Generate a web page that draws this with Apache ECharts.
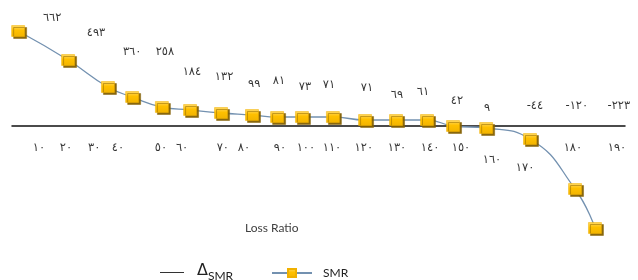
<!DOCTYPE html>
<html>
<head>
<meta charset="utf-8">
<script src="https://cdn.jsdelivr.net/npm/echarts@6/dist/echarts.min.js"></script>
<style>
  html, body { margin: 0; padding: 0; background: #fff; }
  #main { width: 638px; height: 280px; }
</style>
</head>
<body>
<div id="main"></div>
<script>
// SMR curve: position along the loss-ratio axis and SMR value
var smrX = [2.0, 18.3, 31.3, 39.2, 48.9, 58.1, 68.2, 78.3, 86.5, 94.6, 104.7, 115.2, 125.3, 135.4, 143.9, 154.7, 169.0, 183.7, 190.2];
var smrY = [475, 330, 195, 145, 95, 80, 65, 55, 45, 45, 45, 30, 30, 30, 0, -10, -65, -315, -510];

// ΔSMR values written above the curve, and where each one sits
var deltaValues = [662, 493, 360, 258, 184, 132, 99, 81, 73, 71, 71, 69, 61, 42, 9, -44, -120, -223];
var deltaX = [13.1, 27.4, 39.2, 49.9, 58.7, 69.2, 79.0, 87.1, 95.6, 103.4, 115.8, 125.6, 134.1, 145.2, 155.0, 170.6, 184.3, 198.0];
var deltaY = [540, 465, 370, 370, 270, 245, 210, 225, 195, 205, 190, 155, 170, 125, 90, 100, 100, 100];

// loss ratio tick texts under the axis
var lossRatio = [10, 20, 30, 40, 50, 60, 70, 80, 90, 100, 110, 120, 130, 140, 150, 160, 170, 180, 190];
var lossX = [8.8, 17.6, 26.8, 34.6, 48.6, 55.5, 68.8, 75.7, 87.4, 95.9, 104.4, 114.8, 125.6, 136.4, 146.5, 156.6, 167.4, 183.0, 197.4];
var lossY = [-110, -110, -110, -110, -110, -110, -110, -110, -110, -110, -110, -110, -110, -110, -110, -170, -210, -110, -110];

function arabicDigits(n) {
  var s = String(n);
  var d = '٠١٢٣٤٥٦٧٨٩';
  return s.replace(/[0-9]/g, function (c) { return d[+c]; });
}

var smrData = smrX.map(function (x, i) { return [x, smrY[i]]; });
var deltaData = deltaValues.map(function (v, i) {
  return { name: arabicDigits(v), value: [deltaX[i], deltaY[i]] };
});
var lossData = lossRatio.map(function (v, i) {
  return { name: arabicDigits(v), value: [lossX[i], lossY[i]] };
});

var digitLabel = {
  show: true,
  position: 'inside',
  formatter: '{b}',
  fontFamily: 'DejaVu Sans',
  fontSize: 11.5,
  color: '#000'
};

var myChart = echarts.init(document.getElementById('main'));
myChart.setOption({
  animation: false,
  title: {
    text: 'Loss Ratio',
    left: 240,
    top: 217,
    textStyle: { fontFamily: 'Lato', fontSize: 12, fontWeight: 'normal', color: '#404040' }
  },
  legend: [
    {
      data: ['ΔSMR'],
      left: 155,
      top: 258,
      icon: 'rect',
      itemWidth: 24,
      itemHeight: 1,
      itemGap: 10,
      itemStyle: { color: '#000' },
      formatter: function () { return '{d|Δ}{s|SMR}'; },
      textStyle: {
        padding: [0, 0, 0, 8],
        rich: {
          d: { fontFamily: 'DejaVu Sans', fontSize: 16, color: '#222', verticalAlign: 'bottom', padding: [0, 0, 3, 0] },
          s: { fontFamily: 'Lato', fontSize: 12, color: '#222', verticalAlign: 'bottom' }
        }
      }
    },
    {
      data: ['SMR'],
      left: 266,
      top: 262,
      itemWidth: 40,
      itemHeight: 10,
      itemGap: 10,
      textStyle: { fontFamily: 'Lato', fontSize: 12, color: '#222', padding: [0, 0, 0, 6] }
    }
  ],
  grid: { left: 12, right: 13, top: 0, bottom: 0 },
  xAxis: {
    type: 'value',
    min: 0,
    max: 200,
    axisLine: { show: true, onZero: true, lineStyle: { color: '#111', width: 1.5 } },
    axisTick: { show: false },
    axisLabel: { show: false },
    splitLine: { show: false }
  },
  yAxis: {
    type: 'value',
    min: -770,
    max: 630,
    show: false,
    splitLine: { show: false }
  },
  series: [
    {
      name: 'SMR',
      type: 'line',
      data: smrData,
      smooth: 0.5,
      symbol: 'rect',
      symbolSize: [13, 11],
      z: 3,
      lineStyle: { color: '#7391b0', width: 1.3 },
      itemStyle: {
        color: new echarts.graphic.LinearGradient(0, 0, 0, 1, [
          { offset: 0, color: '#ffd966' },
          { offset: 0.45, color: '#ffc000' },
          { offset: 1, color: '#f2b400' }
        ]),
        borderColor: '#f0b000',
        borderWidth: 0.5,
        shadowColor: 'rgba(130, 95, 0, 0.95)',
        shadowOffsetX: 2,
        shadowOffsetY: 2,
        shadowBlur: 0
      },
      silent: true
    },
    {
      name: 'ΔSMR',
      type: 'scatter',
      data: deltaData,
      symbolSize: 0,
      itemStyle: { color: '#000' },
      label: digitLabel,
      silent: true
    },
    {
      name: 'lossRatio',
      type: 'scatter',
      data: lossData,
      symbolSize: 0,
      itemStyle: { color: '#000' },
      label: digitLabel,
      silent: true
    }
  ]
});
</script>
</body>
</html>
